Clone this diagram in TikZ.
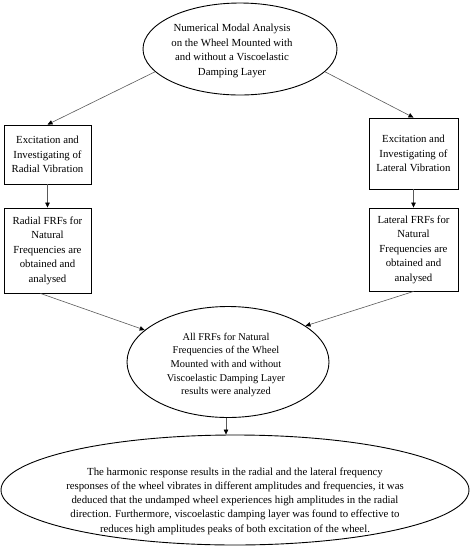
\documentclass[tikz,border=0pt]{standalone}
\usepackage{fontspec}
\setmainfont{Liberation Serif}
\usetikzlibrary{shapes.geometric,arrows.meta}
\begin{document}
\begin{tikzpicture}[x=1pt,y=-1pt,
  ell/.style={ellipse,draw=black,line width=0.9pt,inner sep=0pt},
  stepbox/.style={rectangle,draw=black,line width=0.9pt,inner sep=0pt,align=center,
     font=\fontsize{10.8}{14.5}\selectfont},
  txt/.style={align=center,font=\fontsize{10.8}{14.6}\selectfont},
  conn/.style={draw=black!65,line width=0.6pt,-{Triangle[length=5pt,width=4.5pt,color=black]}}]
\useasboundingbox (0,0) rectangle (471,550);

\node[ell,minimum width=194pt,minimum height=92pt,
  label={[txt,xshift=-8pt,yshift=-2pt]center:{Numerical Modal Analysis\\on the Wheel Mounted with\\and without a Viscoelastic\\Damping Layer}}]
  (top) at (240,49) {};

\node[stepbox,minimum width=87pt,minimum height=59pt] (lb1) at (47.5,154.5)
  {Excitation and\\Investigating of\\Radial Vibration};
\node[stepbox,minimum width=89pt,minimum height=71pt] (rb1) at (413.5,153.5)
  {Excitation and\\Investigating of\\Lateral Vibration};
\node[stepbox,minimum width=87pt,minimum height=85pt] (lb2) at (47.5,250.5)
  {Radial FRFs for\\Natural\\Frequencies are\\obtained and\\analysed};
\node[stepbox,minimum width=89pt,minimum height=83pt] (rb2) at (413.5,249.5)
  {Lateral FRFs for\\Natural\\Frequencies are\\obtained and\\analysed};

\node[ell,minimum width=202pt,minimum height=111pt,
  label={[txt,font=\fontsize{10.4}{13.6}\selectfont,xshift=-2pt,yshift=-3pt]center:{All FRFs for Natural\\Frequencies of the Wheel\\Mounted with and without\\Viscoelastic Damping Layer\\results were analyzed}}]
  (mid) at (228,362) {};

\node[ell,minimum width=468pt,minimum height=110pt,
  label={[txt,font=\fontsize{10.8}{14.3}\selectfont,yshift=-11pt]center:{The harmonic response results in the radial and the lateral frequency\\responses of the wheel vibrates in different amplitudes and frequencies, it was\\deduced that the undamped wheel experiences high amplitudes in the radial\\direction. Furthermore, viscoelastic damping layer was found to effective to\\reduces high amplitudes peaks of both excitation of the wheel.}}]
  (bot) at (235,490) {};

\draw[conn] (top.195) -- (lb1.north);
\draw[conn] (top.-15) -- (rb1.north);
\draw[conn] (lb1.south) -- (lb2.north);
\draw[conn] (rb1.south) -- (rb2.north);
\draw[conn] ([xshift=-7pt]lb2.south) -- (mid.159);
\draw[conn] (rb2.south) -- (mid.25);
\draw[conn] ([xshift=-2pt]mid.south) -- ([xshift=-2pt]mid.south |- bot.north);
\end{tikzpicture}
\end{document}
